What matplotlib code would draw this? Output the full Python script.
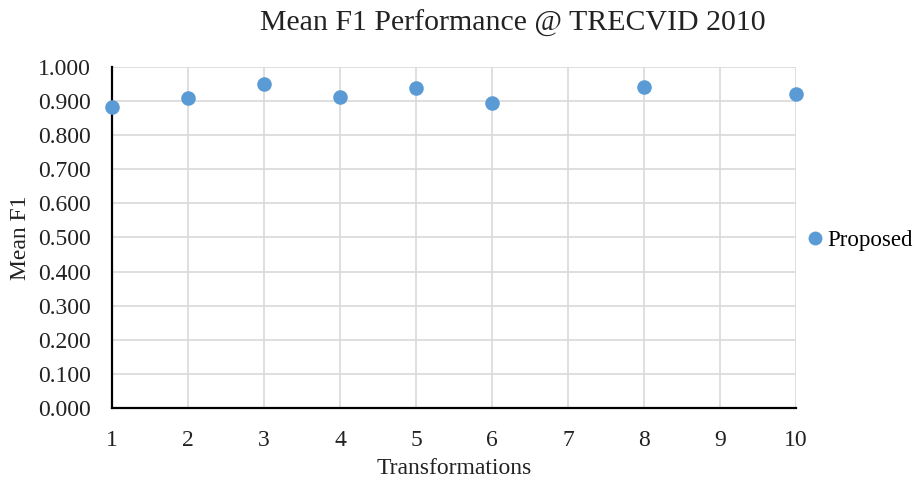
import matplotlib.pyplot as plt
from matplotlib.lines import Line2D

plt.rcParams['font.family'] = ['Liberation Serif', 'DejaVu Serif']

transformations = [1, 2, 3, 4, 5, 6, 8, 10]
mean_f1 = [0.883, 0.908, 0.950, 0.913, 0.938, 0.894, 0.942, 0.921]
x_ticks = list(range(1, 11))
y_ticks = [i / 10 for i in range(11)]

fig = plt.figure(figsize=(9.16, 4.84), dpi=100)
ax = fig.add_axes([0.1223, 0.157, 0.7467, 0.7046])

ax.scatter(transformations, mean_f1, s=110, color='#5B9BD5', zorder=3,
           clip_on=False, linewidths=0)

ax.set_xlim(1, 10)
ax.set_ylim(0, 1)
ax.set_xticks(x_ticks)
ax.set_yticks(y_ticks)
ax.set_yticklabels([f'{v:.3f}' for v in y_ticks])
ax.grid(True, color='#d9d9d9', linewidth=1.2)
ax.set_axisbelow(True)
ax.tick_params(length=0, labelsize=17, colors='#222222')
ax.tick_params(axis='y', pad=15)
ax.tick_params(axis='x', pad=16)

for side in ['top', 'right']:
    ax.spines[side].set_visible(False)
for side in ['left', 'bottom']:
    ax.spines[side].set_color('black')
    ax.spines[side].set_linewidth(1.6)

ax.set_xlabel('Transformations', fontsize=17, color='#222222', labelpad=5)
ax.set_ylabel('Mean F1', fontsize=17, color='#222222', labelpad=5)
fig.text(0.56, 0.952, 'Mean F1 Performance @ TRECVID 2010', fontsize=21.5,
         color='#222222', ha='center', va='center')

handle = Line2D([], [], marker='o', linestyle='', markersize=10,
                markerfacecolor='#5B9BD5', markeredgewidth=0)
fig.legend([handle], ['Proposed'], loc='center left',
           bbox_to_anchor=(0.866, 0.504), frameon=False, fontsize=16.5,
           handletextpad=0.1, handlelength=0.9, borderpad=0)

fig.savefig('out.png', dpi=100)
